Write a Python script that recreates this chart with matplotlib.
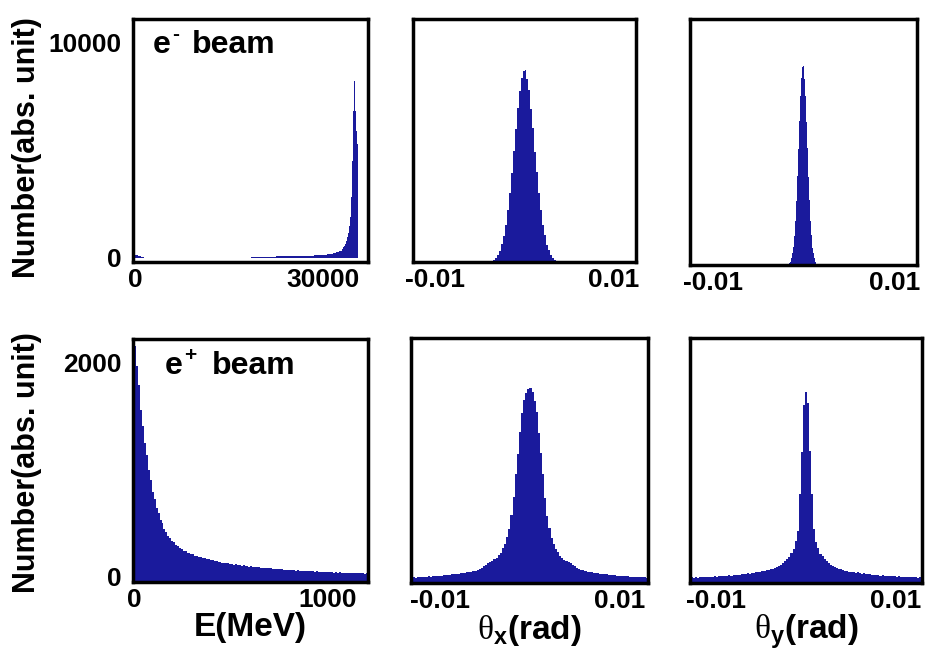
import numpy as np
import matplotlib
matplotlib.use('Agg')
import matplotlib.pyplot as plt

plt.rcParams['font.family'] = ['Liberation Sans', 'DejaVu Sans']
plt.rcParams['font.weight'] = 'bold'
plt.rcParams['axes.unicode_minus'] = False
plt.rcParams['mathtext.fontset'] = 'custom'
plt.rcParams['mathtext.rm'] = 'Liberation Serif:weight=normal'
plt.rcParams['mathtext.bf'] = 'Liberation Sans:bold'
plt.rcParams['mathtext.it'] = 'Liberation Sans:bold'

# ---- e- beam, energy (MeV): 500 MeV bins up to 33000, then 150 MeV bins
e_minus_E_edges = np.concatenate([np.arange(0, 33000, 500), np.arange(33000, 36001, 150)])
e_minus_E_counts = [
    130, 60, 20,
    3, 2, 2, 3, 1, 2, 2, 1, 2, 1, 2, 1, 2, 1, 2, 1, 2, 2, 3, 2,
    3, 2, 3, 3, 4, 3, 4, 4, 5, 5, 6, 6, 8, 8, 10, 12, 15,
    25, 30, 36, 42,
    50, 55, 60, 64, 68, 72, 76, 80,
    84, 88, 92, 96, 100, 106, 112, 120,
    132, 150, 175, 210, 260, 330,
    420, 480, 560, 650, 780, 950, 1150, 1450, 1900, 2800,
    4500, 6800, 8450, 8200, 6800, 5900, 5300, 0, 0, 0,
]

# ---- e- beam, theta_x / theta_y (rad)
e_minus_tx_edges = np.linspace(-0.00374, 0.00374, 35)
e_minus_tx_counts = [
    6, 10, 17, 29, 47, 72, 107, 154, 213, 285, 367, 456, 547, 632, 705, 758, 786,
    790, 755, 708, 628, 550, 452, 370, 282, 215, 151, 109, 70, 48, 28, 18, 9, 5,
]
e_minus_ty_edges = np.linspace(-0.00154, 0.00154, 29)
e_minus_ty_counts = [
    6, 14, 28, 50, 73, 118, 180, 262, 361, 471, 584, 685, 762, 804,
    809, 758, 688, 580, 474, 358, 265, 177, 120, 70, 48, 27, 13, 5,
]

# ---- e+ beam, energy (MeV): 10 MeV bins
e_plus_E_edges = np.arange(0, 1211, 10)
e_plus_E_counts = [
    2160, 1975, 1790, 1560, 1410, 1250, 1140, 1000, 905, 795,
    728, 645, 596, 535, 500, 450, 424, 386, 366, 334,
    322, 296, 288, 268, 264, 246, 243, 228, 226, 211,
    212, 198, 197, 186, 185, 175, 176, 165, 166, 156,
    158, 148, 150, 140, 141, 133, 135, 127, 129, 121,
    123, 115, 118, 110, 113, 105, 108, 101, 104, 97,
    100, 94, 96, 90, 92, 86, 88, 82, 85, 80,
    81, 76, 78, 73, 76, 70, 72, 67, 69, 64,
    67, 62, 64, 59, 62, 57, 60, 55, 58, 53,
    56, 51, 54, 49, 52, 47, 50, 45, 48, 44,
    46, 42, 45, 41, 44, 40, 42, 38, 40, 37,
    39, 36, 38, 35, 37, 34, 36, 33, 35, 32,
    34,
]

# ---- e+ beam, theta_x / theta_y (rad)
e_plus_tx_edges = np.linspace(-0.0132, 0.0132, 113)
e_plus_tx_counts = [
    23, 24, 22, 25, 23, 24, 26, 25, 27, 26, 28, 27, 29, 30, 29, 31, 32, 32, 34, 35,
    35, 37, 38, 39, 41, 42, 43, 45, 47, 48, 51, 53, 57, 63, 68, 75, 80, 84, 90, 96,
    101, 113, 123, 141, 158, 186, 221, 276, 352, 446, 528, 618, 693, 748, 776, 792,
    797, 779, 743, 697, 612, 532, 443, 349, 273, 224, 183, 161, 139, 125, 111, 103,
    94, 90, 84, 82, 75, 71, 63, 59, 53, 52, 48, 47, 46, 43, 42, 41, 39, 38, 37, 36,
    35, 33, 34, 31, 31, 30, 29, 29, 28, 27, 28, 26, 26, 25, 25, 24, 25, 23, 24, 22,
]
e_plus_ty_edges = np.linspace(-0.013, 0.013, 114)
e_plus_ty_counts = [
    21, 23, 22, 23, 22, 24, 23, 25, 24, 24, 26, 25, 27, 26, 27, 28, 29, 28, 30, 31,
    30, 32, 33, 34, 33, 35, 36, 37, 39, 38, 41, 42, 43, 45, 46, 48, 50, 52, 54, 56,
    59, 62, 66, 69, 74, 80, 90, 97, 107, 121, 139, 172, 214, 363, 536, 728,
    781,
    733, 538, 362, 219, 168, 142, 118, 109, 97, 90, 80, 74, 68, 66, 60, 58, 56, 52,
    51, 50, 46, 47, 44, 42, 43, 40, 38, 39, 37, 35, 36, 34, 32, 33, 32, 30, 31, 29,
    30, 28, 28, 29, 27, 26, 27, 25, 26, 25, 24, 25, 24, 23, 24, 22, 23, 22,
]

BLUE = '#1a1a9c'
TICK_FS = 19

fig = plt.figure(figsize=(9.3, 6.52), dpi=100)


def panel(rect, edges, counts, xlim, ylim, xticks, yticks, baseline=0):
    ax = fig.add_axes(rect)
    ax.stairs(counts, edges, fill=True, color=BLUE, baseline=baseline, lw=0)
    ax.set_xlim(*xlim)
    ax.set_ylim(*ylim)
    ax.set_xticks(xticks)
    ax.set_yticks(yticks)
    ax.tick_params(length=0, labelsize=TICK_FS, pad=4)
    ax.tick_params(axis='y', pad=8)
    for s in ax.spines.values():
        s.set_linewidth(2.5)
        s.set_color('black')
    return ax


def beam_label(ax, x, y, sign, sign_dx, beam_dx):
    # "e" + small superscript sign + "beam"
    ax.text(x, y, 'e', transform=ax.transAxes, fontsize=23, fontweight='bold', va='baseline')
    ax.annotate(sign, xy=(x, y), xycoords='axes fraction', xytext=(sign_dx, 9),
                textcoords='offset points', fontsize=15, fontweight='bold', va='baseline')
    ax.annotate('beam', xy=(x, y), xycoords='axes fraction', xytext=(beam_dx, 0),
                textcoords='offset points', fontsize=23, fontweight='bold', va='baseline')


# top row: e- beam
ax1 = panel([0.1430, 0.5982, 0.2527, 0.3727], e_minus_E_edges, e_minus_E_counts,
            (-300, 37100), (-200, 11100), [0, 30000], [0, 10000])
ax2 = panel([0.4441, 0.5982, 0.2398, 0.3727], e_minus_tx_edges, e_minus_tx_counts,
            (-0.0125, 0.0125), (0, 1000), [-0.01, 0.01], [])
ax3 = panel([0.7419, 0.5936, 0.2441, 0.3773], e_minus_ty_edges, e_minus_ty_counts,
            (-0.0125, 0.0125), (0, 1000), [-0.01, 0.01], [])

# bottom row: e+ beam
ax4 = panel([0.1430, 0.1074, 0.2527, 0.3727], e_plus_E_edges, e_plus_E_counts,
            (-8, 1210), (-47, 2224), [0, 1000], [0, 2000], baseline=-47)
ax5 = panel([0.4419, 0.1058, 0.2548, 0.3758], e_plus_tx_edges, e_plus_tx_counts,
            (-0.0132, 0.0132), (0, 1000), [-0.01, 0.01], [])
ax6 = panel([0.7419, 0.1058, 0.2495, 0.3758], e_plus_ty_edges, e_plus_ty_counts,
            (-0.0129, 0.0129), (0, 1000), [-0.01, 0.01], [])

for ax in (ax2, ax3, ax5, ax6):
    ax.set_xticklabels(['-0.01', '0.01'])

beam_label(ax1, 0.085, 0.86, '-', 13.5, 28)
beam_label(ax4, 0.136, 0.856, '+', 13.5, 34)

ax1.set_ylabel('Number(abs. unit)', fontsize=22, fontweight='bold')
ax1.yaxis.set_label_coords(-0.387, 0.47)
ax4.set_ylabel('Number(abs. unit)', fontsize=22, fontweight='bold')
ax4.yaxis.set_label_coords(-0.387, 0.49)

ax4.set_xlabel('E(MeV)', fontsize=24, fontweight='bold', labelpad=0)
ax5.set_xlabel(r'$\mathrm{\theta}_{\mathbf{x}}$(rad)', fontsize=24, fontweight='bold', labelpad=0)
ax6.set_xlabel(r'$\mathrm{\theta}_{\mathbf{y}}$(rad)', fontsize=24, fontweight='bold', labelpad=0)

fig.savefig('out.png', dpi=100)
